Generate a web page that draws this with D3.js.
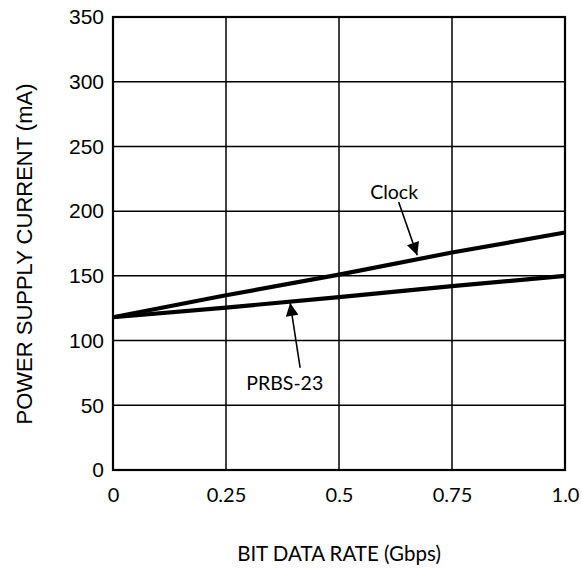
<!DOCTYPE html>
<html>
<head>
<meta charset="utf-8">
<script src="https://cdn.jsdelivr.net/npm/d3@7"></script>
<style>
  body { margin: 0; background: #fff; }
  .yTick { font-family: "Liberation Sans", Arial, sans-serif; font-size: 21px; }
  .xTick { font-family: Lato, "Open Sans", sans-serif; font-size: 20px; }
</style>
</head>
<body>
<div id="chart"></div>
<script>
// data
let rates = [0, 0.25, 0.5, 0.75, 1.0];
let clockCurrent = [118, 135, 151, 168, 183.5];
let prbsCurrent = [118, 125.5, 133.5, 142, 150];
let xTicks = [0, 0.25, 0.5, 0.75, 1.0];
let xTickLabels = ["0", "0.25", "0.5", "0.75", "1.0"];
let yTicks = [0, 50, 100, 150, 200, 250, 300, 350];

let svgWidth = 582;
let svgHeight = 571;
let margin = { top: 17, right: 17, bottom: 101, left: 113 };
let plot_width = svgWidth - margin.left - margin.right;
let plot_height = svgHeight - margin.top - margin.bottom;

let svg = d3.select("#chart")
  .append("svg")
  .attr("width", svgWidth)
  .attr("height", svgHeight);

let chartGroup = svg.append("g")
  .attr("transform", `translate(${margin.left}, ${margin.top})`);

let xScale = d3.scaleLinear().domain([0, 1]).range([0, plot_width]);
let yScale = d3.scaleLinear().domain([0, 350]).range([plot_height, 0]);

// grid
chartGroup.selectAll(".vgrid")
  .data(xTicks)
  .enter()
  .append("line")
  .attr("x1", d => xScale(d)).attr("x2", d => xScale(d))
  .attr("y1", 0).attr("y2", plot_height)
  .attr("stroke", "#000").attr("stroke-width", 1.5);

chartGroup.selectAll(".hgrid")
  .data(yTicks)
  .enter()
  .append("line")
  .attr("x1", 0).attr("x2", plot_width)
  .attr("y1", d => yScale(d)).attr("y2", d => yScale(d))
  .attr("stroke", "#000").attr("stroke-width", 1.5);

// frame
chartGroup.append("rect")
  .attr("width", plot_width).attr("height", plot_height)
  .attr("fill", "none").attr("stroke", "#000").attr("stroke-width", 2.2);

// axes (labels only)
let bottomAxis = d3.axisBottom(xScale)
  .tickValues(xTicks)
  .tickSize(0)
  .tickPadding(18)
  .tickFormat((d, i) => xTickLabels[i]);
let leftAxis = d3.axisLeft(yScale)
  .tickValues(yTicks)
  .tickSize(0)
  .tickPadding(9);

let xAxisG = chartGroup.append("g")
  .attr("transform", `translate(0, ${plot_height})`)
  .call(bottomAxis);
xAxisG.select(".domain").remove();
xAxisG.selectAll("text").attr("class", "xTick").attr("fill", "#000");

let yAxisG = chartGroup.append("g").call(leftAxis);
yAxisG.select(".domain").remove();
yAxisG.selectAll("text").attr("class", "yTick").attr("fill", "#000");

// series
let line = d3.line()
  .x(d => xScale(d[0]))
  .y(d => yScale(d[1]));

[clockCurrent, prbsCurrent].forEach(function(vals) {
  chartGroup.append("path")
    .datum(rates.map((r, i) => [r, vals[i]]))
    .attr("d", line)
    .attr("fill", "none")
    .attr("stroke", "#000")
    .attr("stroke-width", 4.2)
    .attr("stroke-linejoin", "round");
});

// annotations with arrows
svg.append("defs").append("marker")
  .attr("id", "arrow")
  .attr("viewBox", "0 0 10 10")
  .attr("refX", 10).attr("refY", 5)
  .attr("markerWidth", 9).attr("markerHeight", 8)
  .attr("markerUnits", "strokeWidth")
  .attr("orient", "auto")
  .append("path")
  .attr("d", "M0,0 L10,5 L0,10 Z")
  .attr("fill", "#000");

let notes = [
  { text: "Clock", tx: 0.622, ty: 209, x1: 0.632, y1: 207, x2: 0.673, y2: 166 },
  { text: "PRBS-23", tx: 0.38, ty: 62, x1: 0.414, y1: 79, x2: 0.392, y2: 129 }
];

notes.forEach(function(n) {
  chartGroup.append("line")
    .attr("x1", xScale(n.x1)).attr("y1", yScale(n.y1))
    .attr("x2", xScale(n.x2)).attr("y2", yScale(n.y2))
    .attr("stroke", "#000").attr("stroke-width", 1.6)
    .attr("marker-end", "url(#arrow)");
  chartGroup.append("text")
    .attr("x", xScale(n.tx)).attr("y", yScale(n.ty))
    .attr("text-anchor", "middle")
    .style("font-family", "Lato, 'Open Sans', sans-serif")
    .style("font-size", "19.5px")
    .text(n.text);
});

// axis titles
svg.append("text")
  .attr("transform", "rotate(-90)")
  .attr("x", -254)
  .attr("y", 32)
  .attr("text-anchor", "middle")
  .style("font-family", "'Liberation Sans', Arial, sans-serif")
  .style("font-size", "22px")
  .text("POWER SUPPLY CURRENT (mA)");

svg.append("text")
  .attr("x", 339)
  .attr("y", 561)
  .attr("text-anchor", "middle")
  .style("font-family", "Lato, 'Open Sans', sans-serif")
  .style("font-size", "20.5px")
  .text("BIT DATA RATE (Gbps)");
</script>
</body>
</html>
